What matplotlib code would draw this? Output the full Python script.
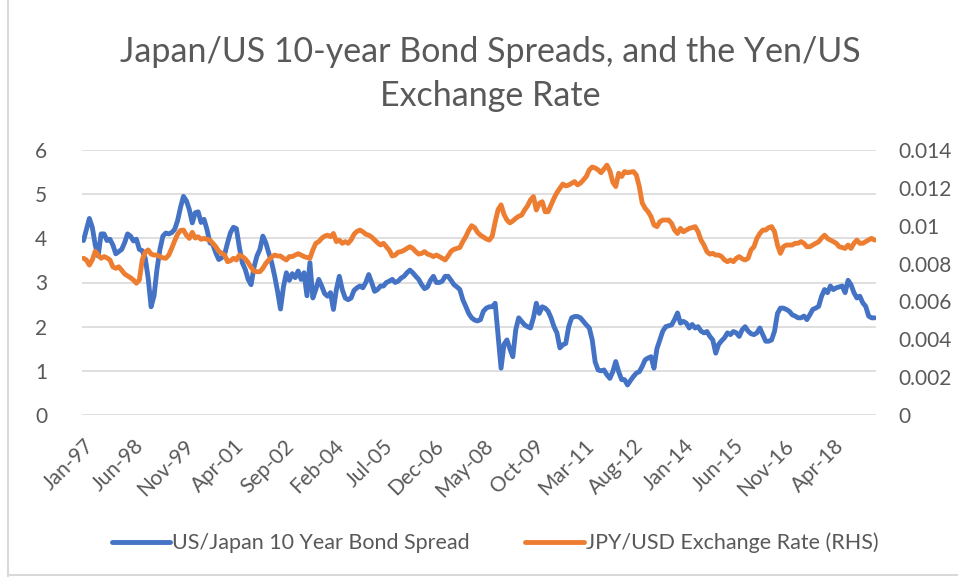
import matplotlib.pyplot as plt
import numpy as np

# monthly data Jan-97 .. Jun-19
spread = [3.95, 4.2, 4.45, 4.25, 3.85, 3.6, 4.1, 4.1, 3.95, 3.98,
          3.85, 3.65, 3.7, 3.75, 3.9, 4.1, 4.05, 3.94, 3.98, 3.75,
          3.72, 3.55, 3.1, 2.45, 2.7, 3.3, 3.75, 4.05, 4.12, 4.1,
          4.13, 4.2, 4.4, 4.7, 4.95, 4.85, 4.65, 4.35, 4.58, 4.6,
          4.36, 4.43, 4.2, 3.9, 3.86, 3.67, 3.52, 3.56, 3.64, 3.9,
          4.13, 4.25, 4.22, 3.8, 3.45, 3.3, 3.07, 2.95, 3.35, 3.6,
          3.75, 4.05, 3.9, 3.67, 3.45, 3.15, 2.8, 2.4, 2.9, 3.22,
          3.05, 3.2, 3.11, 3.26, 3.07, 3.22, 2.7, 3.45, 2.65, 2.84,
          3.07, 2.92, 2.75, 2.69, 2.77, 2.39, 2.84, 3.14, 2.84, 2.65,
          2.61, 2.65, 2.82, 2.88, 2.92, 2.88, 3.0, 3.18, 3.0, 2.8,
          2.84, 2.92, 2.92, 3.0, 3.03, 3.07, 3.0, 3.03, 3.1, 3.14,
          3.22, 3.28, 3.22, 3.14, 3.07, 2.95, 2.86, 2.9, 3.05, 3.14,
          3.0, 3.0, 3.03, 3.14, 3.14, 3.05, 2.95, 2.9, 2.84, 2.61,
          2.46, 2.3, 2.2, 2.15, 2.13, 2.16, 2.35, 2.42, 2.45, 2.45,
          2.53, 1.8, 1.06, 1.6, 1.7, 1.5, 1.32, 1.93, 2.2, 2.12,
          2.04, 2.0, 1.97, 2.2, 2.53, 2.3, 2.45, 2.42, 2.35, 2.2,
          2.0, 1.86, 1.52, 1.59, 1.62, 2.0, 2.2, 2.23, 2.23, 2.2,
          2.12, 2.04, 1.97, 1.7, 1.2, 1.02, 1.0, 1.02, 0.91, 0.83,
          0.98, 1.21, 0.98, 0.8, 0.8, 0.68, 0.78, 0.87, 0.95, 0.98,
          1.1, 1.25, 1.29, 1.32, 1.06, 1.5, 1.7, 1.9, 2.0, 2.02,
          2.04, 2.16, 2.31, 2.08, 2.12, 2.08, 1.97, 2.05, 1.97, 2.0,
          1.9, 1.86, 1.89, 1.78, 1.7, 1.4, 1.6, 1.68, 1.75, 1.86,
          1.82, 1.89, 1.86, 1.78, 1.93, 2.0, 1.9, 1.84, 1.82, 1.86,
          1.97, 1.82, 1.67, 1.67, 1.7, 1.9, 2.3, 2.42, 2.42, 2.39,
          2.35, 2.27, 2.24, 2.2, 2.2, 2.24, 2.16, 2.27, 2.39, 2.42,
          2.46, 2.69, 2.84, 2.77, 2.92, 2.84, 2.88, 2.9, 2.92, 2.77,
          3.05, 2.95, 2.77, 2.65, 2.69, 2.54, 2.46, 2.24, 2.2, 2.2]

jpyusd = [0.00828, 0.00819, 0.00792, 0.00819, 0.00865, 0.00845, 0.00828, 0.00837, 0.00830, 0.00819,
          0.00783, 0.00775, 0.00783, 0.00765, 0.00745, 0.00735, 0.00725, 0.00713, 0.00696, 0.00713,
          0.00820, 0.00860, 0.00872, 0.00850, 0.00845, 0.00845, 0.00837, 0.00830, 0.00828, 0.00845,
          0.00880, 0.00920, 0.00955, 0.00975, 0.00977, 0.00950, 0.00933, 0.00965, 0.00935, 0.00942,
          0.00928, 0.00933, 0.00928, 0.00924, 0.00907, 0.00889, 0.00865, 0.00855, 0.00845, 0.00810,
          0.00815, 0.00828, 0.00819, 0.00845, 0.00837, 0.00825, 0.00805, 0.00780, 0.00760, 0.00757,
          0.00757, 0.00775, 0.00801, 0.00819, 0.00835, 0.00845, 0.00840, 0.00840, 0.00828, 0.00819,
          0.00837, 0.00837, 0.00845, 0.00852, 0.00845, 0.00837, 0.00832, 0.00828, 0.00872, 0.00907,
          0.00916, 0.00933, 0.00945, 0.00950, 0.00942, 0.00959, 0.00916, 0.00924, 0.00907, 0.00916,
          0.00907, 0.00925, 0.00955, 0.00970, 0.00977, 0.00968, 0.00955, 0.00950, 0.00940, 0.00925,
          0.00910, 0.00898, 0.00907, 0.00889, 0.00870, 0.00840, 0.00845, 0.00860, 0.00863, 0.00870,
          0.00880, 0.00889, 0.00880, 0.00863, 0.00850, 0.00854, 0.00863, 0.00850, 0.00845, 0.00837,
          0.00845, 0.00837, 0.00828, 0.00819, 0.00840, 0.00865, 0.00875, 0.00880, 0.00885, 0.00916,
          0.00942, 0.00975, 0.01000, 0.00990, 0.00965, 0.00950, 0.00940, 0.00930, 0.00924, 0.00945,
          0.01020, 0.01085, 0.01110, 0.01060, 0.01030, 0.01015, 0.01025, 0.01039, 0.01050, 0.01056,
          0.01083, 0.01105, 0.01136, 0.01154, 0.01083, 0.01118, 0.01127, 0.01074, 0.01074, 0.01110,
          0.01145, 0.01175, 0.01198, 0.01220, 0.01210, 0.01215, 0.01224, 0.01233, 0.01216, 0.01225,
          0.01242, 0.01260, 0.01295, 0.01310, 0.01305, 0.01295, 0.01280, 0.01300, 0.01320, 0.01290,
          0.01230, 0.01207, 0.01277, 0.01260, 0.01286, 0.01280, 0.01283, 0.01286, 0.01268, 0.01207,
          0.01120, 0.01092, 0.01074, 0.01048, 0.01004, 0.00995, 0.01021, 0.01030, 0.01030, 0.01030,
          0.01012, 0.00977, 0.00959, 0.00986, 0.00968, 0.00977, 0.00986, 0.00990, 0.00995, 0.00968,
          0.00924, 0.00898, 0.00863, 0.00850, 0.00854, 0.00845, 0.00845, 0.00837, 0.00819, 0.00810,
          0.00819, 0.00810, 0.00828, 0.00837, 0.00825, 0.00819, 0.00828, 0.00872, 0.00889, 0.00933,
          0.00959, 0.00977, 0.00977, 0.00990, 0.00995, 0.00968, 0.00898, 0.00854, 0.00889, 0.00898,
          0.00898, 0.00898, 0.00907, 0.00907, 0.00916, 0.00907, 0.00889, 0.00889, 0.00898, 0.00907,
          0.00915, 0.00935, 0.00950, 0.00933, 0.00924, 0.00916, 0.00907, 0.00889, 0.00885, 0.00880,
          0.00898, 0.00880, 0.00907, 0.00924, 0.00907, 0.00907, 0.00916, 0.00925, 0.00933, 0.00924]

tick_labels = ["Jan-97", "Jun-98", "Nov-99", "Apr-01", "Sep-02", "Feb-04", "Jul-05", "Dec-06",
               "May-08", "Oct-09", "Mar-11", "Aug-12", "Jan-14", "Jun-15", "Nov-16", "Apr-18"]
tick_step = 17

plt.rcParams['font.family'] = ['Lato', 'DejaVu Sans']
grey = '#595959'

fig = plt.figure(figsize=(9.58, 5.77), dpi=100)
ax = fig.add_axes([82/958, 1 - 415/577, 794/958, 265/577])
ax2 = ax.twinx()

x = np.arange(len(spread))
l1, = ax.plot(x, spread, color='#4472C4', lw=3.5, solid_capstyle='round', zorder=3)
l2, = ax2.plot(x, jpyusd, color='#ED7D31', lw=3.5, solid_capstyle='round', zorder=3)

ax.set_xlim(-0.5, len(spread) - 0.5)
ax.set_ylim(0, 6)
ax2.set_ylim(0, 0.014)
ax.set_yticks(range(0, 7))
ax2.set_yticks([0, 0.002, 0.004, 0.006, 0.008, 0.01, 0.012, 0.014])
ax2.set_yticklabels(["0", "0.002", "0.004", "0.006", "0.008", "0.01", "0.012", "0.014"])
ax.yaxis.grid(True, color='#D9D9D9', lw=1.2)
ax.set_axisbelow(True)

ax.set_xticks(x[::tick_step])
ax.set_xticklabels(tick_labels, rotation=45, ha='right', va='top', rotation_mode='anchor')

for a in (ax, ax2):
    for s in a.spines.values():
        s.set_visible(False)
    a.tick_params(length=0, labelsize=15, labelcolor=grey)
ax.tick_params(axis='y', pad=25)
ax.tick_params(axis='x', pad=15)
ax2.tick_params(axis='y', pad=16)

fig.text(490/958, 1 - 74/577, "Japan/US 10-year Bond Spreads, and the Yen/US\nExchange Rate",
         ha='center', va='center', fontsize=24.5, color=grey, linespacing=1.45)

fig.legend([l1, l2], ["US/Japan 10 Year Bond Spread", "JPY/USD Exchange Rate (RHS)"],
           loc='center', bbox_to_anchor=(495/958, 1 - 543/577), ncol=2, frameon=False,
           fontsize=15.5, labelcolor=grey, handlelength=2.7, handletextpad=0.1, columnspacing=2.6)

# light chart border like the excel frame
fig.add_artist(plt.Line2D([8/958, 8/958], [0, 1], color='#D9D9D9', lw=1.5))
fig.add_artist(plt.Line2D([8/958, 1], [2/577, 2/577], color='#D9D9D9', lw=1.5))

fig.savefig("out.png", dpi=100)
